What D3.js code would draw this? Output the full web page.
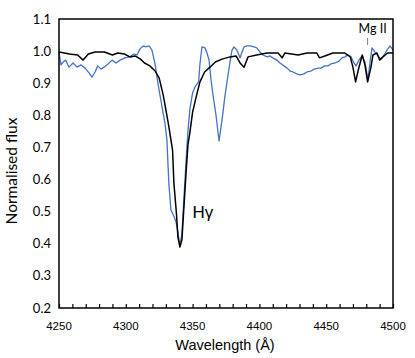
<!DOCTYPE html>
<meta charset="utf-8">
<style>
body { margin: 0; background: #fff; }
</style>
<html>
<head><title>H gamma</title></head>
<body>
<svg id="chart" width="415" height="358"></svg>
</body>
</html>
<script src="https://d3js.org/d3.v7.min.js"></script>
<script type="text/javascript">
// model spectrum (black)
var modelWave = [4250,4258,4264,4268,4272,4277,4284,4290,4294,4299,4303,4307,4311,4314,4318,4322,4325,4328,4330,4332,4335,4336,4338,4339,4340.5,4342,4343.5,4345,4346.5,4348,4350,4353,4355.5,4359,4363,4367,4372,4378,4382.5,4385.5,4388.5,4391.5,4398,4405.7,4414,4417,4419,4429,4435.6,4443,4445,4449,4455,4464,4468,4470,4472,4474,4477,4479,4481,4483.5,4485,4488,4490,4492.5,4496,4500];
var modelFlux = [0.997,0.991,0.988,0.972,0.991,0.997,0.997,0.988,0.994,0.991,0.982,0.985,0.975,0.963,0.954,0.938,0.916,0.863,0.817,0.770,0.692,0.589,0.489,0.421,0.390,0.412,0.514,0.614,0.707,0.748,0.810,0.863,0.904,0.935,0.950,0.966,0.975,0.982,0.985,0.963,0.950,0.982,0.988,0.994,0.994,0.979,0.994,0.988,0.994,0.994,0.979,0.985,0.994,0.994,0.982,0.950,0.904,0.941,0.988,0.957,0.904,0.950,0.988,0.994,0.972,0.982,0.994,0.994];

// observed spectrum (blue)
var obsWave = [4250,4251.5,4253,4255,4257.5,4260.5,4263.5,4266.5,4269.5,4272.5,4274.7,4277,4279,4281.4,4283.7,4286.7,4289.7,4292.7,4295.7,4299.4,4303,4306,4308.4,4310.6,4313,4315,4317.4,4319.6,4322,4324,4325.6,4327.8,4329.3,4330.8,4331.6,4332.3,4333.8,4336,4337.6,4339,4340.5,4342,4343.5,4345,4346.5,4348,4350,4352,4354.5,4355.5,4357,4359.3,4360.8,4362.3,4363.8,4365.3,4367.5,4369.8,4372,4374.3,4376.5,4378,4379.5,4381,4383.2,4385.5,4387,4388.5,4390.7,4393,4396,4398,4400.5,4402.7,4405.7,4408,4410,4413,4415.4,4418.4,4420.7,4423,4425,4428,4430.4,4433.4,4435.6,4438.6,4441,4444,4446,4449,4451.3,4453.6,4456.6,4459.6,4461.8,4464,4466.3,4468.6,4470.8,4472.3,4474.5,4476.8,4479,4481.3,4482.8,4484.3,4486.5,4488.8,4491,4493.3,4495.5,4497.8,4500];
var obsFlux = [0.997,0.957,0.966,0.972,0.950,0.963,0.950,0.957,0.947,0.932,0.919,0.935,0.954,0.944,0.950,0.960,0.972,0.963,0.972,0.979,0.982,0.991,0.988,1.007,1.016,1.013,1.016,1.003,0.957,0.901,0.863,0.810,0.776,0.723,0.645,0.583,0.505,0.486,0.468,0.436,0.395,0.430,0.540,0.650,0.750,0.820,0.870,0.890,0.904,0.960,1.013,1.010,0.994,0.972,0.910,0.863,0.801,0.720,0.785,0.863,0.925,0.966,1.003,1.013,1.003,0.979,0.997,1.013,1.016,1.016,1.013,1.010,0.997,0.988,0.982,0.985,0.979,0.972,0.963,0.954,0.947,0.938,0.935,0.929,0.926,0.929,0.935,0.938,0.944,0.947,0.947,0.954,0.954,0.960,0.963,0.969,0.979,0.982,0.988,0.982,0.963,0.954,0.972,0.985,0.966,0.910,0.966,1.010,0.997,0.985,0.975,0.988,1.003,1.016,1.003];

var xTicks = [4250,4300,4350,4400,4450,4500];
var xMinor = d3.range(4250, 4501, 10);
var yTicks = [0.2,0.3,0.4,0.5,0.6,0.7,0.8,0.9,1.0,1.1];

var svg = d3.select("#chart");
var pLeft = 59, pRight = 393, pTop = 19, pBottom = 308;

var x = d3.scaleLinear().domain([4250, 4500]).range([pLeft, pRight]);
var y = d3.scaleLinear().domain([0.2, 1.1]).range([pBottom, pTop]);

// x axis: tick marks pointing inward, labels below
var xAxis = svg.append("g")
    .attr("transform", "translate(0," + pBottom + ")")
    .call(d3.axisBottom(x).tickValues(xMinor).tickSize(-4).tickFormat(""));
xAxis.select(".domain").remove();
xAxis.selectAll("line").attr("stroke", "#000").attr("stroke-width", 1.2);

svg.append("g").selectAll("text")
    .data(xTicks)
    .enter().append("text")
      .attr("x", function(d) { return x(d); })
      .attr("y", 330)
      .attr("text-anchor", "middle")
      .style("font-family", "'Liberation Sans', Arial, sans-serif")
      .style("font-size", "11.5px")
      .text(function(d) { return d; });

svg.append("g").selectAll("text")
    .data(yTicks)
    .enter().append("text")
      .attr("x", 51)
      .attr("y", function(d) { return y(d) + 4.5; })
      .attr("text-anchor", "end")
      .style("font-family", "Lato, sans-serif")
      .style("font-size", "13px")
      .text(function(d) { return d.toFixed(1); });

// spectra
var line = d3.line()
    .x(function(d) { return x(d[0]); })
    .y(function(d) { return y(d[1]); });

svg.append("path")
    .datum(d3.zip(obsWave, obsFlux))
    .attr("fill", "none")
    .attr("stroke", "#4472C4")
    .attr("stroke-width", 1.3)
    .attr("stroke-linejoin", "round")
    .attr("d", line);

svg.append("path")
    .datum(d3.zip(modelWave, modelFlux))
    .attr("fill", "none")
    .attr("stroke", "#000")
    .attr("stroke-width", 1.5)
    .attr("stroke-linejoin", "round")
    .attr("d", line);

// frame
svg.append("rect")
    .attr("x", pLeft).attr("y", pTop)
    .attr("width", pRight - pLeft).attr("height", pBottom - pTop)
    .attr("fill", "none")
    .attr("stroke", "#000")
    .attr("stroke-width", 1.5);

// labels
svg.append("text")
    .attr("x", x(4341) + 12)
    .attr("y", 218)
    .style("font-family", "'Liberation Sans', Arial, sans-serif")
    .style("font-size", "17px")
    .text("H\u03b3");

svg.append("text")
    .attr("x", x(4481) - 9)
    .attr("y", 33)
    .style("font-family", "Lato, sans-serif")
    .style("font-size", "12.5px")
    .text("Mg II");

svg.append("line")
    .attr("x1", x(4481)).attr("x2", x(4481))
    .attr("y1", 38).attr("y2", 45)
    .attr("stroke", "#555").attr("stroke-width", 0.8);

svg.append("text")
    .attr("x", 225)
    .attr("y", 350)
    .attr("text-anchor", "middle")
    .style("font-family", "'Liberation Sans', Arial, sans-serif")
    .style("font-size", "14.5px")
    .text("Wavelength (\u00c5)");

svg.append("text")
    .attr("transform", "translate(17,171) rotate(-90)")
    .attr("text-anchor", "middle")
    .style("font-family", "Lato, sans-serif")
    .style("font-size", "15.5px")
    .text("Normalised flux");
</script>
